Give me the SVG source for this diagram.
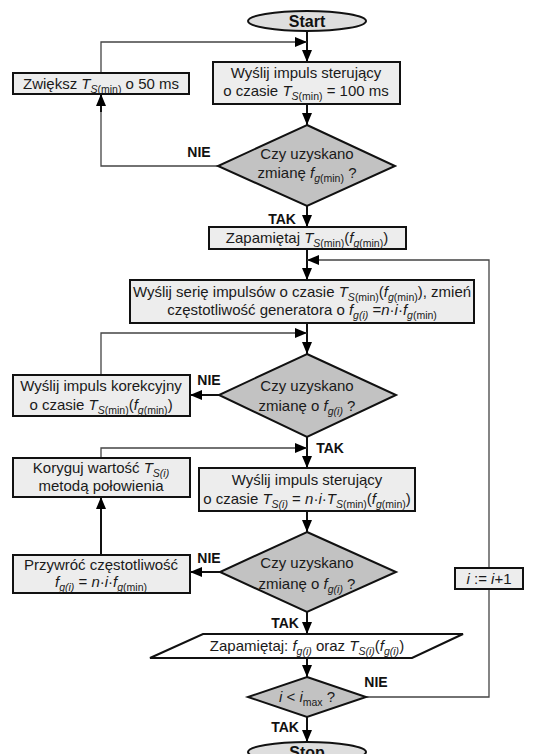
<svg xmlns="http://www.w3.org/2000/svg" width="556" height="754" viewBox="0 0 556 754">
<style>
text{font-family:"Liberation Sans",Arial,sans-serif;font-size:15px;fill:#1a1a1a;text-anchor:middle}
.i{font-style:italic}
.s{font-size:10.5px}
.lbl{font-weight:bold;font-size:14px;fill:#111}
.start{font-weight:bold;font-size:16px;fill:#111}
.box{fill:#ededed;stroke:#111;stroke-width:2}
.dia{fill:#c2c2c2;stroke:#111;stroke-width:2}
.ell{fill:#dedede;stroke:#111;stroke-width:2}
.par{fill:#fff;stroke:#111;stroke-width:2}
.c{fill:none;stroke:#111;stroke-width:2}
.t{fill:none;stroke:#444;stroke-width:1.3}
</style>
<defs>
<marker id="ah" markerUnits="userSpaceOnUse" markerWidth="12" markerHeight="10" refX="12" refY="5" orient="auto">
<path d="M0,0 L12,5 L0,10 Z" fill="#000"/>
</marker>
</defs>
<g id="connectors">
<path class="c" d="M307,31 V62" marker-end="url(#ah)"/>
<path class="t" d="M101,73 V42 H307" marker-end="url(#ah)"/>
<path class="c" d="M307,104 V125" marker-end="url(#ah)"/>
<path class="t" d="M218,166 H101 V94"/>
<path class="c" d="M101,112 V94" marker-end="url(#ah)"/>
<path class="c" d="M307,206 V227" marker-end="url(#ah)"/>
<path class="c" d="M307,249 V280" marker-end="url(#ah)"/>
<path class="t" d="M489,568 V260 H307" marker-end="url(#ah)"/>
<path class="c" d="M307,323 V354" marker-end="url(#ah)"/>
<path class="t" d="M101,375 V333 H307" marker-end="url(#ah)"/>
<path class="c" d="M219,395 H190" marker-end="url(#ah)"/>
<path class="c" d="M307,437 V468" marker-end="url(#ah)"/>
<path class="t" d="M101,458 V448 H307" marker-end="url(#ah)"/>
<path class="c" d="M307,511 V532" marker-end="url(#ah)"/>
<path class="c" d="M220,572 H190" marker-end="url(#ah)"/>
<path class="c" d="M101,555 V497" marker-end="url(#ah)"/>
<path class="c" d="M307,612 V634" marker-end="url(#ah)"/>
<path class="c" d="M307,658 V677" marker-end="url(#ah)"/>
<path class="t" d="M366,697 H489 V589"/>
<path class="c" d="M307,717 V742" marker-end="url(#ah)"/>
<text class="lbl" x="199" y="157">NIE</text>
<text class="lbl" x="282" y="224">TAK</text>
<text class="lbl" x="209" y="385">NIE</text>
<text class="lbl" x="330" y="453">TAK</text>
<text class="lbl" x="209" y="563">NIE</text>
<text class="lbl" x="285" y="628">TAK</text>
<text class="lbl" x="376" y="687">NIE</text>
<text class="lbl" x="285" y="732">TAK</text>
</g>
<g id="start">
<ellipse class="ell" cx="307" cy="21" rx="59" ry="10"/>
<text class="start" x="307" y="27">Start</text>
</g>
<g id="send1">
<rect class="box" x="213" y="62" width="187" height="42"/>
<text x="306" y="78">Wyślij impuls sterujący</text>
<text x="306" y="96">o czasie <tspan class="i">T</tspan><tspan class="s" dy="4"><tspan class="i">S</tspan>(min)</tspan><tspan dy="-4"> = 100 ms</tspan></text>
</g>
<g id="increase">
<rect class="box" x="13" y="73" width="176" height="21"/>
<text x="101" y="89">Zwiększ <tspan class="i">T</tspan><tspan class="s" dy="4"><tspan class="i">S</tspan>(min)</tspan><tspan dy="-4"> o 50 ms</tspan></text>
</g>
<g id="check1">
<polygon class="dia" points="307,125 395,166 307,206 218,166"/>
<text x="307" y="159">Czy uzyskano</text>
<text x="307" y="178">zmianę <tspan class="i">f</tspan><tspan class="s" dy="4"><tspan class="i">g</tspan>(min)</tspan><tspan dy="-4"> ?</tspan></text>
</g>
<g id="store1">
<rect class="box" x="209" y="227" width="197" height="22"/>
<text x="307" y="243">Zapamiętaj <tspan class="i">T</tspan><tspan class="s" dy="4"><tspan class="i">S</tspan>(min)</tspan><tspan dy="-4">(<tspan class="i">f</tspan></tspan><tspan class="s" dy="4"><tspan class="i">g</tspan>(min)</tspan><tspan dy="-4">)</tspan></text>
</g>
<g id="series">
<rect class="box" x="130" y="280" width="344" height="43"/>
<text x="302" y="297">Wyślij serię impulsów o czasie <tspan class="i">T</tspan><tspan class="s" dy="4"><tspan class="i">S</tspan>(min)</tspan><tspan dy="-4">(<tspan class="i">f</tspan></tspan><tspan class="s" dy="4"><tspan class="i">g</tspan>(min)</tspan><tspan dy="-4">), zmień</tspan></text>
<text x="302" y="315">częstotliwość generatora o <tspan class="i">f</tspan><tspan class="s i" dy="4">g(i)</tspan><tspan dy="-4"> =<tspan class="i">n</tspan>·<tspan class="i">i</tspan>·<tspan class="i">f</tspan></tspan><tspan class="s" dy="4"><tspan class="i">g</tspan>(min)</tspan></text>
</g>
<g id="check2">
<polygon class="dia" points="307,354 396,395 307,437 219,395"/>
<text x="307" y="391">Czy uzyskano</text>
<text x="307" y="411">zmianę o <tspan class="i">f</tspan><tspan class="s i" dy="4">g(i)</tspan><tspan dy="-4"> ?</tspan></text>
</g>
<g id="correction">
<rect class="box" x="13" y="375" width="177" height="41"/>
<text x="101" y="391">Wyślij impuls korekcyjny</text>
<text x="101" y="410">o czasie <tspan class="i">T</tspan><tspan class="s" dy="4"><tspan class="i">S</tspan>(min)</tspan><tspan dy="-4">(<tspan class="i">f</tspan></tspan><tspan class="s" dy="4"><tspan class="i">g</tspan>(min)</tspan><tspan dy="-4">)</tspan></text>
</g>
<g id="adjust">
<rect class="box" x="13" y="458" width="177" height="39"/>
<text x="101" y="473">Koryguj wartość <tspan class="i">T</tspan><tspan class="s i" dy="4">S(i)</tspan></text>
<text x="101" y="491">metodą połowienia</text>
</g>
<g id="send2">
<rect class="box" x="199" y="468" width="216" height="43"/>
<text x="307" y="485">Wyślij impuls sterujący</text>
<text x="307" y="504">o czasie <tspan class="i">T</tspan><tspan class="s i" dy="4">S(i)</tspan><tspan dy="-4"> = <tspan class="i">n</tspan>·<tspan class="i">i</tspan>·<tspan class="i">T</tspan></tspan><tspan class="s" dy="4"><tspan class="i">S</tspan>(min)</tspan><tspan dy="-4">(<tspan class="i">f</tspan></tspan><tspan class="s" dy="4"><tspan class="i">g</tspan>(min)</tspan><tspan dy="-4">)</tspan></text>
</g>
<g id="check3">
<polygon class="dia" points="307,532 396,572 307,612 220,572"/>
<text x="307" y="568">Czy uzyskano</text>
<text x="307" y="589">zmianę o <tspan class="i">f</tspan><tspan class="s i" dy="4">g(i)</tspan><tspan dy="-4"> ?</tspan></text>
</g>
<g id="restore">
<rect class="box" x="13" y="555" width="177" height="38"/>
<text x="101" y="570">Przywróć częstotliwość</text>
<text x="101" y="587"><tspan class="i">f</tspan><tspan class="s i" dy="4">g(i)</tspan><tspan dy="-4"> = <tspan class="i">n</tspan>·<tspan class="i">i</tspan>·<tspan class="i">f</tspan></tspan><tspan class="s" dy="4"><tspan class="i">g</tspan>(min)</tspan></text>
</g>
<g id="increment">
<rect class="box" x="455" y="568" width="68" height="21"/>
<text x="489" y="584"><tspan class="i">i</tspan> := <tspan class="i">i</tspan>+1</text>
</g>
<g id="store2">
<polygon class="par" points="203,634 463,634 412,658 150,658"/>
<text x="307" y="651">Zapamiętaj: <tspan class="i">f</tspan><tspan class="s i" dy="4">g(i)</tspan><tspan dy="-4"> oraz <tspan class="i">T</tspan></tspan><tspan class="s i" dy="4">S(i)</tspan><tspan dy="-4">(<tspan class="i">f</tspan></tspan><tspan class="s i" dy="4">g(i)</tspan><tspan dy="-4">)</tspan></text>
</g>
<g id="check4">
<polygon class="dia" points="307,677 366,697 307,717 248,697"/>
<text x="307" y="702"><tspan class="i">i</tspan> &lt; <tspan class="i">i</tspan><tspan class="s" dy="4">max</tspan><tspan dy="-4"> ?</tspan></text>
</g>
<g id="stop">
<ellipse class="ell" cx="307" cy="752" rx="59" ry="10"/>
<text class="start" x="307" y="758">Stop</text>
</g>
</svg>
